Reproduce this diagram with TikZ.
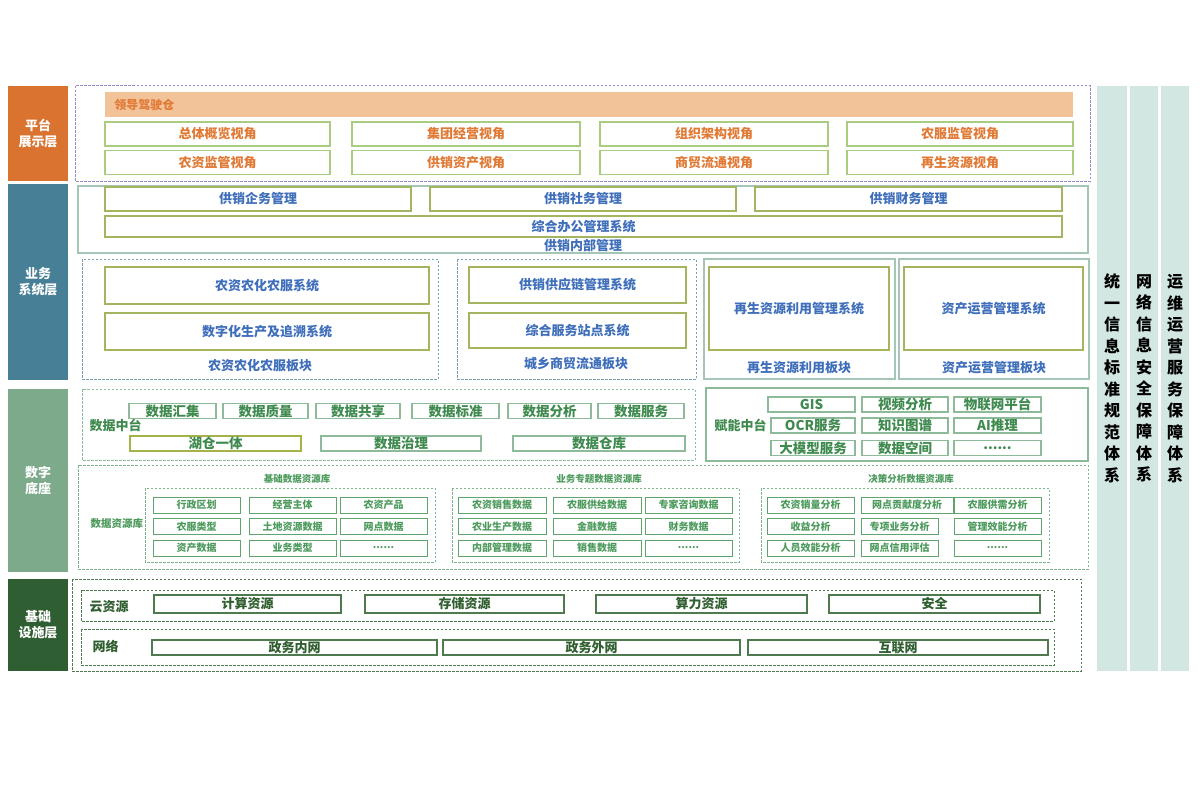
\documentclass[tikz,border=0pt]{standalone}
\usepackage{fontspec}
\setmainfont{Noto Sans CJK SC}
\definecolor{platorange}{HTML}{D9732F}
\definecolor{leadfill}{HTML}{F2C299}
\definecolor{orangetxt}{HTML}{E07A35}
\definecolor{viewline}{HTML}{A9CC7E}
\definecolor{purpledash}{HTML}{9A8CC8}
\definecolor{bizteal}{HTML}{477F96}
\definecolor{biztxt}{HTML}{3F6FBA}
\definecolor{bizline}{HTML}{A3B55F}
\definecolor{bizdash}{HTML}{7A9EB4}
\definecolor{bizframe}{HTML}{A3C6B6}
\definecolor{datagreen}{HTML}{7DAA8B}
\definecolor{datatxt}{HTML}{3F8A4E}
\definecolor{dataline}{HTML}{8DBA98}
\definecolor{lakeline}{HTML}{A5B24A}
\definecolor{restxt}{HTML}{4C9A5C}
\definecolor{resline}{HTML}{5FA36F}
\definecolor{resdash}{HTML}{7FB58C}
\definecolor{infradark}{HTML}{2F5E32}
\definecolor{infratxt}{HTML}{2F5E2F}
\definecolor{infraline}{HTML}{4F7A4F}
\definecolor{sidefill}{HTML}{D2E6E2}
\newcommand{\moredots}{......}
\begin{document}
\begin{tikzpicture}[x=1pt,y=-1pt,font=\bfseries\fontsize{13}{15}\selectfont,
  layer/.style={fill=#1,text=white,inner sep=0pt,align=center,font=\bfseries\fontsize{13}{16}\selectfont},
  blk/.style={draw=#1,line width=1.3pt,inner sep=0pt,fill=white},
  viewbox/.style={blk=viewline,text=orangetxt,minimum height=24},
  bizbox/.style={blk=bizline,text=biztxt},
  databox/.style={blk=dataline,text=datatxt,minimum height=15,font=\bfseries\fontsize{13.5}{15}\selectfont},
  resbox/.style={blk=resline,line width=1pt,text=restxt,minimum height=16,font=\bfseries\fontsize{10}{11}\selectfont},
  infrabox/.style={blk=infraline,text=infratxt},
  frame/.style={draw=#1,line width=1pt,dashed,dash pattern=on 2.5pt off 1.5pt},
  sidecol/.style={fill=sidefill,inner sep=0pt,align=center,font=\bfseries\fontsize{16}{21.5}\selectfont}]
  \useasboundingbox (0,0) rectangle (1200,800);

  % layer labels
  \node[layer=platorange,minimum width=60,minimum height=95] (plat) at (38,133.5) {平台\\展示层};
  \node[layer=bizteal,minimum width=60,minimum height=196] (biz) at (38,282) {业务\\系统层};
  \node[layer=datagreen,minimum width=60,minimum height=183] (data) at (38,480.5) {数字\\底座};
  \node[layer=infradark,minimum width=60,minimum height=92] (infra) at (38,625) {基础\\设施层};

  % platform display layer
  \draw[frame=purpledash] (75,86) rectangle (1090,181);
  \node[fill=leadfill,minimum width=968,minimum height=25,inner sep=0pt] (lead) at (589,104.5) {};
  \node[anchor=west,text=orangetxt,font=\bfseries\fontsize{12}{14}\selectfont] (leadlab) at ([xshift=6]lead.west) {领导驾驶仓};
  \foreach \xa/\xb/\laba/\labb [count=\i] in {105/330/总体概览视角/农资监管视角,352/580/集团经营视角/供销资产视角,
      600/828/组织架构视角/商贸流通视角,847/1073/农服监管视角/再生资源视角} {
    \node[viewbox,minimum width=\xb-\xa] (viewa\i) at ({(\xa+\xb)/2},134) {\laba};
    \node[viewbox,minimum width=\xb-\xa] (viewb\i) at ({(\xa+\xb)/2},162.5) {\labb};
  }

  % business system layer
  \node[draw=bizframe,line width=1.2pt,minimum width=1010,minimum height=67,inner sep=0pt] (internal) at (583,219.5) {};
  \node[text=biztxt] (internallab) at (583,246) {供销内部管理};
  \foreach \xa/\xb/\lab [count=\i] in {105/411/供销企务管理,430/736/供销社务管理,755/1062/供销财务管理}
    \node[bizbox,minimum width=\xb-\xa,minimum height=24] (mgmt\i) at ({(\xa+\xb)/2},199) {\lab};
  \node[bizbox,minimum width=957,minimum height=21] (office) at (583.5,226.5) {综合办公管理系统};
  \draw[frame=bizdash] (82,259) rectangle (438,379);
  \draw[frame=bizdash] (457,259) rectangle (696,379);
  \draw[draw=bizframe,line width=1.2pt] (704,259) rectangle (895,379);
  \draw[draw=bizframe,line width=1.2pt] (899,259) rectangle (1089,379);
  \foreach \xa/\xb/\ya/\yb/\lab [count=\i] in {105/429/267/304/农资农化农服系统,105/429/313/350/数字化生产及追溯系统,
      469/686/267/303/供销供应链管理系统,469/686/313/348/综合服务站点系统,
      709/889/267/350/再生资源利用管理系统,904/1083/267/350/资产运营管理系统}
    \node[bizbox,minimum width=\xb-\xa,minimum height=\yb-\ya] (sys\i) at ({(\xa+\xb)/2},{(\ya+\yb)/2}) {\lab};
  \foreach \x/\y/\lab [count=\i] in {260/366/农资农化农服板块,576/364/城乡商贸流通板块,799/368/再生资源利用板块,994/368/资产运营管理板块}
    \node[text=biztxt] (plate\i) at (\x,\y) {\lab};

  % data middle platform
  \draw[frame=dataline] (82,389) rectangle (695,460);
  \node[anchor=west,text=datatxt] (midlab) at (86,425) {数据中台};
  \foreach \xa/\xb/\lab [count=\i] in {129/216/数据汇集,223/308/数据质量,316/400/数据共享,412/499/数据标准,508/591/数据分析,598/684/数据服务}
    \node[databox,minimum width=\xb-\xa] (mida\i) at ({(\xa+\xb)/2},411) {\lab};
  \foreach \xa/\xb/\lab/\col [count=\i] in {130/301/湖仓一体/lakeline,321/481/数据治理/dataline,513/685/数据仓库/dataline}
    \node[databox,draw=\col,minimum width=\xb-\xa] (midb\i) at ({(\xa+\xb)/2},443.5) {\lab};
  \draw[draw=dataline,line width=1.2pt] (706,388) rectangle (1088,461);
  \node[anchor=west,text=datatxt] (enablab) at (711,425) {赋能中台};
  \foreach \xa/\xb/\y/\lab [count=\i] in {768/855/404.5/GIS,862/948/404.5/视频分析,954/1041/404.5/物联网平台,
      771/855/425.5/OCR服务,862/948/425.5/知识图谱,954/1041/425.5/AI推理,
      771/855/448/大模型服务,862/948/448/数据空间,954/1041/448/\moredots}
    \node[databox,minimum width=\xb-\xa] (enab\i) at ({(\xa+\xb)/2},\y) {\lab};

  % data resource library
  \draw[frame=resdash] (78,465) rectangle (1088,569);
  \node[anchor=west,text=restxt,font=\bfseries\fontsize{10.5}{12}\selectfont] (reslab) at (87,524) {数据资源库};
  \foreach \x/\xa/\xb/\lab [count=\i] in {297/145/435/基础数据资源库,599/452/739/业务专题数据资源库,911/761/1049/决策分析数据资源库} {
    \node[text=restxt,font=\bfseries\fontsize{9.5}{11}\selectfont] (reshead\i) at (\x,479) {\lab};
    \draw[frame=resdash] (\xa,488) rectangle (\xb,562);
  }
  \foreach \xa/\xb/\y/\lab [count=\i] in {
      153/240/505/行政区划,249/336/505/经营主体,340/427/505/农资产品,
      153/240/526.5/农服类型,249/336/526.5/土地资源数据,340/427/526.5/网点数据,
      153/240/548/资产数据,249/336/548/业务类型,340/427/548/\moredots,
      458/546/505/农资销售数据,553/641/505/农服供给数据,645/732/505/专家咨询数据,
      458/546/526.5/农业生产数据,553/641/526.5/金融数据,645/732/526.5/财务数据,
      458/546/548/内部管理数据,553/641/548/销售数据,645/732/548/\moredots,
      767/854/505/农资销量分析,861/953/505/网点贡献度分析,954/1041/505/农服供需分析,
      767/854/526.5/收益分析,861/938/526.5/专项业务分析,954/1041/526.5/管理效能分析,
      767/854/548/人员效能分析,861/938/548/网点信用评估,954/1041/548/\moredots}
    \node[resbox,minimum width=\xb-\xa] (res\i) at ({(\xa+\xb)/2},\y) {\lab};

  % infrastructure layer
  \draw[frame=infraline] (72,579) rectangle (1081,671);
  \draw[frame=infraline] (81,590) rectangle (1054,621);
  \draw[frame=infraline] (81,629) rectangle (1054,665);
  \node[anchor=west,text=infratxt] (cloudlab) at (86,607) {云资源};
  \node[anchor=west,text=infratxt] (netlab) at (89,646) {网络};
  \foreach \xa/\xb/\lab [count=\i] in {154/341/计算资源,365/564/存储资源,596/807/算力资源,829/1040/安全}
    \node[infrabox,minimum width=\xb-\xa,minimum height=18] (cloud\i) at ({(\xa+\xb)/2},604) {\lab};
  \foreach \xa/\xb/\lab [count=\i] in {152/437/政务内网,443/740/政务外网,748/1048/互联网}
    \node[infrabox,minimum width=\xb-\xa,minimum height=15] (net\i) at ({(\xa+\xb)/2},647.5) {\lab};

  % side columns
  \node[sidecol,minimum width=30,minimum height=585] (std) at (1112,378.5) {统\\一\\信\\息\\标\\准\\规\\范\\体\\系};
  \node[sidecol,minimum width=28,minimum height=585] (sec) at (1144,378.5) {网\\络\\信\\息\\安\\全\\保\\障\\体\\系};
  \node[sidecol,minimum width=28,minimum height=585] (ops) at (1175,378.5) {运\\维\\运\\营\\服\\务\\保\\障\\体\\系};
\end{tikzpicture}
\end{document}
